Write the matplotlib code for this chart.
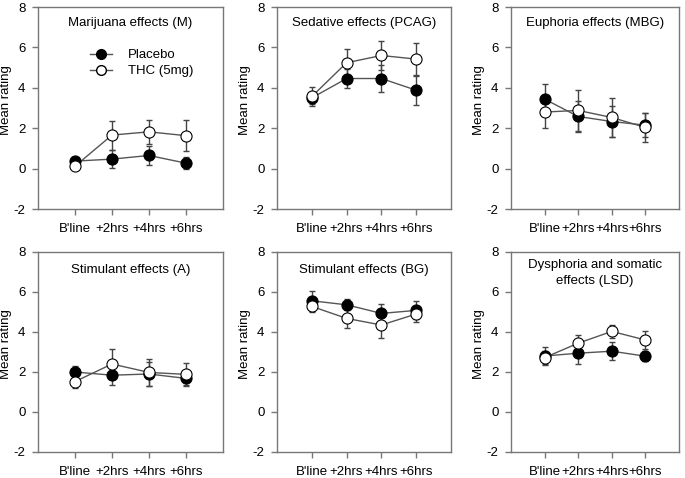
import numpy as np
import matplotlib
matplotlib.use("Agg")
import matplotlib.pyplot as plt
from matplotlib.lines import Line2D

plt.rcParams['font.family'] = ['Liberation Sans', 'DejaVu Sans']
plt.rcParams['font.size'] = 9.5
plt.rcParams['axes.unicode_minus'] = False

times = ["B'line", "+2hrs", "+4hrs", "+6hrs"]
titles = ["Marijuana effects (M)", "Sedative effects (PCAG)", "Euphoria effects (MBG)",
          "Stimulant effects (A)", "Stimulant effects (BG)", "Dysphoria and somatic\neffects (LSD)"]

placebo_m = [0.37, 0.47, 0.65, 0.27]
placebo_m_err = [0.08, 0.43, 0.45, 0.29]
thc_m = [0.12, 1.66, 1.82, 1.63]
thc_m_err = [0.08, 0.72, 0.6, 0.76]

placebo_pcag = [3.5, 4.46, 4.46, 3.88]
placebo_pcag_err = [0.3, 0.48, 0.68, 0.72]
thc_pcag = [3.57, 5.24, 5.6, 5.42]
thc_pcag_err = [0.48, 0.66, 0.72, 0.8]

placebo_mbg = [3.44, 2.58, 2.33, 2.15]
placebo_mbg_err = [0.74, 0.78, 0.78, 0.6]
thc_mbg = [2.8, 2.88, 2.53, 2.04]
thc_mbg_err = [0.8, 1.03, 0.96, 0.7]

placebo_a = [2.0, 1.84, 1.9, 1.68]
placebo_a_err = [0.3, 0.48, 0.6, 0.34]
thc_a = [1.52, 2.4, 1.98, 1.88]
thc_a_err = [0.3, 0.74, 0.68, 0.57]

placebo_bg = [5.56, 5.36, 4.93, 5.08]
placebo_bg_err = [0.5, 0.27, 0.45, 0.45]
thc_bg = [5.28, 4.68, 4.35, 4.9]
thc_bg_err = [0.28, 0.5, 0.66, 0.38]

placebo_lsd = [2.8, 2.94, 3.04, 2.79]
placebo_lsd_err = [0.44, 0.53, 0.45, 0.25]
thc_lsd = [2.72, 3.44, 4.03, 3.6]
thc_lsd_err = [0.34, 0.4, 0.33, 0.46]

placebo_all = [placebo_m, placebo_pcag, placebo_mbg, placebo_a, placebo_bg, placebo_lsd]
placebo_err_all = [placebo_m_err, placebo_pcag_err, placebo_mbg_err, placebo_a_err, placebo_bg_err, placebo_lsd_err]
thc_all = [thc_m, thc_pcag, thc_mbg, thc_a, thc_bg, thc_lsd]
thc_err_all = [thc_m_err, thc_pcag_err, thc_mbg_err, thc_a_err, thc_bg_err, thc_lsd_err]

W, H = 685, 478
fig = plt.figure(figsize=(W / 100, H / 100), dpi=100)

# panel boxes in pixels: left, right / top, bottom
cols = [(38, 223), (277, 451), (511, 679)]
rows = [(7, 209), (252, 452)]
title_off = [16, 16, 16, 18, 18, 21]

x = np.arange(len(times))
spine_col = '#777777'
line_col = '#555555'
err_col = '#444444'

for i in range(6):
    r, c = divmod(i, 3)
    l, rr = cols[c]
    t, b = rows[r]
    ax = fig.add_axes([l / W, 1 - b / H, (rr - l) / W, (b - t) / H])

    ax.errorbar(x, placebo_all[i], yerr=placebo_err_all[i], fmt='none',
                ecolor=err_col, elinewidth=1, capsize=2.5, capthick=1, zorder=1)
    ax.errorbar(x, thc_all[i], yerr=thc_err_all[i], fmt='none',
                ecolor=err_col, elinewidth=1, capsize=2.5, capthick=1, zorder=1)
    ax.plot(x, placebo_all[i], '-', color=line_col, lw=1, zorder=2)
    ax.plot(x, thc_all[i], '-', color=line_col, lw=1, zorder=2)
    ax.plot(x, placebo_all[i], 'o', ms=8, mfc='black', mec='black', mew=0.8,
            zorder=3, label='Placebo')
    ax.plot(x, thc_all[i], 'o', ms=8, mfc='white', mec='black', mew=0.8,
            zorder=4, label='THC (5mg)')

    ax.set_xlim(-1, 4)
    ax.set_ylim(-2, 8)
    ax.set_yticks([-2, 0, 2, 4, 6, 8])
    ax.set_xticks(x)
    ax.set_xticklabels(times)
    ax.tick_params(direction='out', length=4, width=1, color=spine_col, pad=5)
    ax.tick_params(axis='x', pad=6)
    for s in ax.spines.values():
        s.set_color(spine_col)
        s.set_linewidth(1)

    ax.set_ylabel('Mean rating')
    ax.yaxis.set_label_coords(-26 / (rr - l), 0.54)

    ax.text(0.5, 1 - title_off[i] / (b - t), titles[i], transform=ax.transAxes,
            ha='center', va='center', linespacing=1.45)

    if i == 0:
        h = [Line2D([], [], color=line_col, lw=1, marker='o', ms=7, mfc='black', mec='black'),
             Line2D([], [], color=line_col, lw=1, marker='o', ms=7, mfc='white', mec='black')]
        ax.legend(h, ['Placebo', 'THC (5mg)'], loc='upper left',
                  bbox_to_anchor=((90 - l) / (rr - l), (b - 49) / (b - t)),
                  frameon=False, borderpad=0, borderaxespad=0,
                  handlelength=1.7, handletextpad=1.2, labelspacing=0.3,
                  fontsize=9.5)

fig.savefig('out.png', dpi=100)
